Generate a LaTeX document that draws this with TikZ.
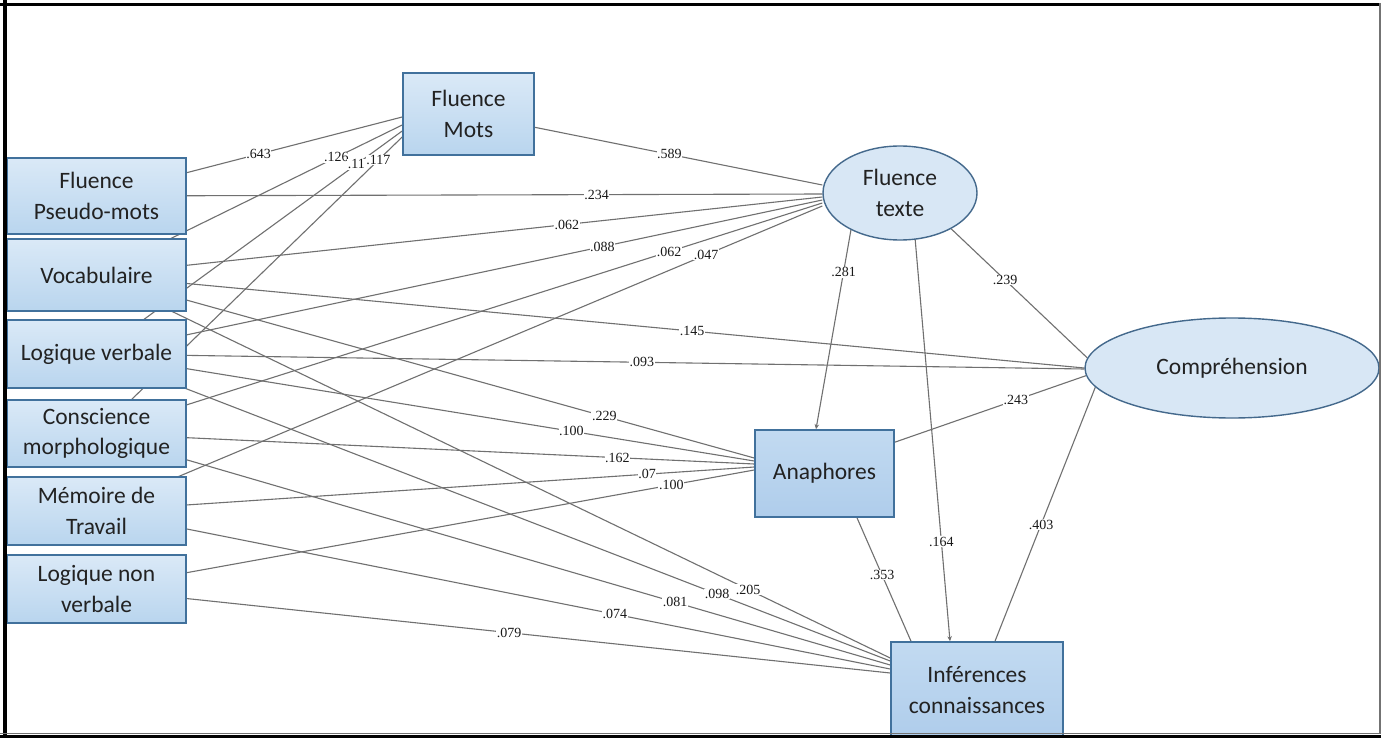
\documentclass[tikz,border=0pt]{standalone}
\usepackage{fontspec}
\setmainfont{Carlito}
\newfontfamily\labfont{Liberation Serif}
\usetikzlibrary{calc,shapes.geometric,arrows.meta,backgrounds}
\definecolor{boxline}{HTML}{41719C}
\definecolor{boxtop}{HTML}{DAE9F7}
\definecolor{boxbot}{HTML}{B9D5EE}
\definecolor{midtop}{HTML}{C2DAF1}
\definecolor{midbot}{HTML}{AFCDEB}
\definecolor{ellfill}{HTML}{D8E7F5}
\definecolor{ellline}{HTML}{44698C}
\definecolor{pathgray}{HTML}{707070}
\definecolor{txt}{HTML}{222222}

\begin{document}
\begin{tikzpicture}[x=1pt,y=-1pt,
  box/.style={rectangle, draw=boxline, line width=1.6pt, top color=boxtop, bottom color=boxbot,
    align=center, inner sep=0pt, text=txt, font=\fontsize{23.5}{30.5}\selectfont},
  leftbox/.style={box, minimum width=179pt},
  midbox/.style={box, top color=midtop, bottom color=midbot},
  latent/.style={ellipse, draw=ellline, line width=1.4pt, fill=ellfill, inner sep=0pt,
    align=center, text=txt, font=\fontsize{23.5}{30.5}\selectfont},
  link/.style={draw=pathgray, line width=1.1pt},
  arr/.style={link, -{Stealth[length=5pt,width=4.5pt]}},
  coef/.style={fill=white, inner sep=0.6pt, text=black!90, font=\labfont\fontsize{14}{14}\selectfont},
]
\useasboundingbox (0,0) rectangle (1381,738);

% observed predictors
\node[leftbox, minimum height=76pt] (fpm) at (96.5,196) {Fluence\\Pseudo-mots};
\node[leftbox, minimum height=72pt] (voc) at (96.5,275) {Vocabulaire};
\node[leftbox, minimum height=68pt] (lv)  at (96.5,354) {Logique verbale};
\node[leftbox, minimum height=67pt] (cm)  at (96.5,433.5) {Conscience\\morphologique};
\node[leftbox, minimum height=68pt] (mt)  at (96.5,511) {Mémoire de\\Travail};
\node[leftbox, minimum height=68pt] (lnv) at (96.5,589) {Logique non\\verbale};

% mediators and outcome
\node[box, minimum width=131pt, minimum height=82pt] (fm) at (468.5,114) {Fluence\\Mots};
\node[latent, minimum width=154pt, minimum height=94pt] (ft) at (900,193) {Fluence\\texte};
\node[latent, minimum width=294pt, minimum height=100pt] (comp) at (1232,368) {Compréhension};
\node[midbox, minimum width=139pt, minimum height=87pt] (ana) at (824.5,473.5) {Anaphores};
\node[midbox, minimum width=172pt, minimum height=96pt] (inf) at (977,690) {Inférences\\connaissances};

\begin{scope}[on background layer]
\fill[white] (0,0) rectangle (1381,738);

% paths to Fluence Mots
\draw[link] (fpm.center) -- node[coef,pos=0.530]{.643} ($(fm.west)+(0,3)$);
\draw[link] (voc.center) -- node[coef,pos=0.785]{.126} ($(fm.west)+(0,11)$);
\draw[link] (lv.center)  -- node[coef,pos=0.850]{.11}  ($(fm.west)+(0,17)$);
\draw[link] (cm.center)  -- node[coef,pos=0.922]{.117} ($(fm.west)+(0,23)$);

% paths to Fluence texte
\draw[link] (fm.center)  -- node[coef,pos=0.568]{.589} ($(ft.west)+(0,-8)$);
\draw[link] (fpm.center) -- node[coef,pos=0.689]{.234} ($(ft.west)+(0,1)$);
\draw[link] (voc.center) -- node[coef,pos=0.648]{.062} ($(ft.west)+(0,4)$);
\draw[link] (lv.center)  -- node[coef,pos=0.697]{.088} ($(ft.west)+(0,7)$);
\draw[link] (cm.center)  -- node[coef,pos=0.789]{.062} ($(ft.west)+(0,10)$);
\draw[link] (mt.center)  -- node[coef,pos=0.840]{.047} ($(ft.west)+(0,13)$);

% paths to Compréhension
\draw[link] (voc.center) -- node[coef,pos=0.603]{.145} ($(comp.west)+(0,0)$);
\draw[link] (lv.center)  -- node[coef,pos=0.552]{.093} ($(comp.west)+(0,1)$);
\draw[link] (ft.-35) -- node[coef,pos=0.396]{.239} (comp.176);
\draw[link] ($(ana.north east)+(0,13)$) -- node[coef,pos=0.633]{.243} (comp.183);
\draw[link] ($(inf.north)+(18,0)$) -- node[coef,pos=0.459]{.403} (comp.188);

% paths to Anaphores
\draw[link] (voc.center) -- node[coef,pos=0.772]{.229} ($(ana.west)+(0,-15.5)$);
\draw[link] (lv.center)  -- node[coef,pos=0.722]{.100} ($(ana.west)+(0,-12.5)$);
\draw[link] (cm.center)  -- node[coef,pos=0.792]{.162} ($(ana.west)+(0,-9.5)$);
\draw[link] (mt.center)  -- node[coef,pos=0.837]{.07}  ($(ana.west)+(0,-6.5)$);
\draw[link] (lnv.center) -- node[coef,pos=0.874]{.100} ($(ana.west)+(0,-3.5)$);
\draw[arr] (ft.217) -- node[coef,pos=0.212]{.281} ($(ana.north)+(-8.5,0)$);

% paths to Inférences
\draw[link] (voc.center) -- node[coef,pos=0.821]{.205} ($(inf.west)+(0,-32)$);
\draw[link] (lv.center)  -- node[coef,pos=0.782]{.098} ($(inf.west)+(0,-29)$);
\draw[link] (cm.center)  -- node[coef,pos=0.729]{.081} ($(inf.west)+(0,-25)$);
\draw[link] (mt.center)  -- node[coef,pos=0.653]{.074} ($(inf.west)+(0,-21)$);
\draw[link] (lnv.center) -- node[coef,pos=0.520]{.079} ($(inf.west)+(0,-17)$);
\draw[arr] (ft.-72) -- node[coef,pos=0.752]{.164} ($(inf.north)+(-27,0)$);
\draw[link] ($(ana.south)+(32.5,0)$) -- node[coef,pos=0.464]{.353} ($(inf.north)+(-66,0)$);
\end{scope}

% frame
\draw[line width=3pt] (0,4.5) -- (1381,4.5);
\draw[line width=4pt] (5,0) -- (5,738);
\draw[black!55, line width=1.5pt] (1380,3) -- (1380,734);
\draw[black!55, line width=1pt] (0,733.5) -- (1381,733.5);
\draw[line width=3pt] (0,736.5) -- (1381,736.5);
\end{tikzpicture}
\end{document}
